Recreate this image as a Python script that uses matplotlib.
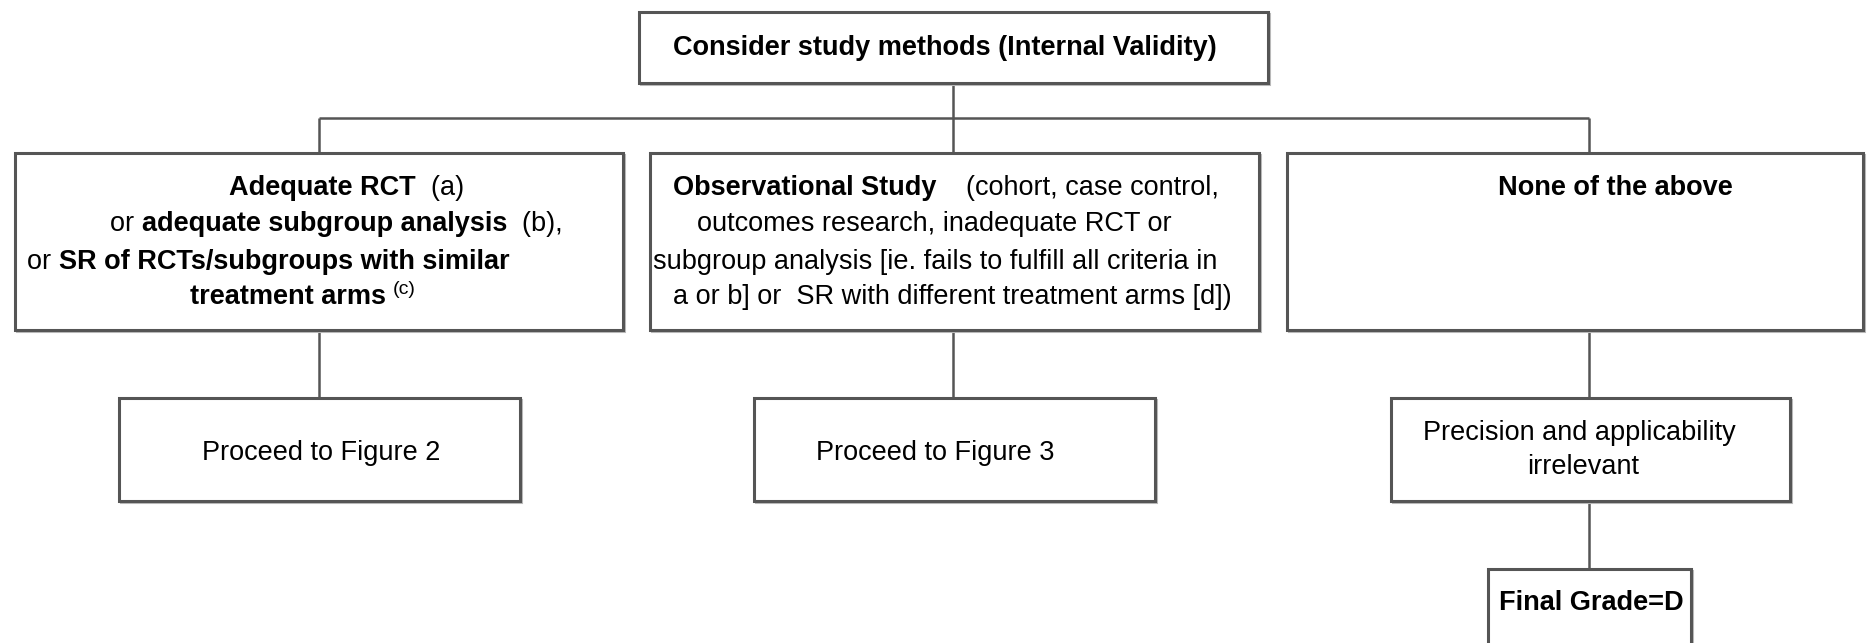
import matplotlib
matplotlib.use('Agg')
import matplotlib.pyplot as plt
from matplotlib.patches import Rectangle

# box texts: each line is a list of (text, bold) pieces
top_label = [[("Consider study methods (Internal Validity)", True)]]

rct_label = [
    [("Adequate RCT", True), ("  (a)", False)],
    [("or ", False), ("adequate subgroup analysis", True), ("  (b),", False)],
    [("or ", False), ("SR of RCTs/subgroups with similar", True)],
    [("treatment arms", True)],
]
rct_sup = "(c)"

obs_label = [
    [("Observational Study", True), ("    (cohort, case control,", False)],
    [("outcomes research, inadequate RCT or", False)],
    [("subgroup analysis [ie. fails to fulfill all criteria in", False)],
    [("a or b] or  SR with different treatment arms [d])", False)],
]

none_label = "None of the above"
fig2_label = "Proceed to Figure 2"
fig3_label = "Proceed to Figure 3"
prec_label = ["Precision and applicability", "irrelevant"]
final_label = "Final Grade=D"

# layout (pixel coords, y going down)
FS = 19.5
EDGE = '#555555'
boxes = {
    'top': (639, 12, 1268, 83),
    'rct': (15, 153, 623, 330),
    'obs': (650, 153, 1259, 330),
    'none': (1287, 153, 1863, 330),
    'fig2': (119, 398, 520, 501),
    'fig3': (754, 398, 1155, 501),
    'prec': (1391, 398, 1790, 501),
    'final': (1488, 569, 1691, 680),
}
line_y = [188, 224, 262, 297]


def draw_box(ax, key):
    x0, y0, x1, y1 = boxes[key]
    ax.add_patch(Rectangle((x0 + 2, y0 + 2), x1 - x0, y1 - y0, fill=False,
                           edgecolor='#bbbbbb', lw=1.5, zorder=1))
    ax.add_patch(Rectangle((x0, y0), x1 - x0, y1 - y0, facecolor='white',
                           edgecolor=EDGE, lw=2.2, zorder=2))


def draw_line(ax, x, y, parts, size=FS):
    prev = None
    for txt, bold in parts:
        kw = dict(fontsize=size, fontweight='bold' if bold else 'normal',
                  color='black', zorder=3)
        if prev is None:
            prev = ax.text(x, y, txt, ha='left', va='center', **kw)
        else:
            prev = ax.annotate(txt, xy=(1, 0), xycoords=prev,
                               ha='left', va='bottom', **kw)
    return prev


def connect(ax, xs, ys):
    ax.plot(xs, ys, color=EDGE, lw=1.8, zorder=1, solid_capstyle='butt')


def main():
    plt.rcParams['font.family'] = ['Liberation Sans', 'DejaVu Sans']
    fig = plt.figure(figsize=(18.7, 6.43), dpi=100)
    ax = fig.add_axes([0, 0, 1, 1])
    ax.set_xlim(0, 1870)
    ax.set_ylim(643, 0)
    ax.axis('off')

    # connectors
    connect(ax, [953, 953], [83, 153])
    connect(ax, [319, 1589], [118, 118])
    connect(ax, [319, 319], [118, 153])
    connect(ax, [1589, 1589], [118, 153])
    connect(ax, [319, 319], [330, 398])
    connect(ax, [953, 953], [330, 398])
    connect(ax, [1589, 1589], [330, 398])
    connect(ax, [1589, 1589], [501, 569])

    for key in boxes:
        draw_box(ax, key)

    draw_line(ax, 673, 48, top_label[0])

    rct_x = [229, 110, 27, 190]
    last = None
    for x, y, parts in zip(rct_x, line_y, rct_label):
        last = draw_line(ax, x, y, parts)
    ax.annotate(rct_sup, xy=(1, 1), xycoords=last, xytext=(5, 2),
                textcoords='offset points', ha='left', va='top',
                fontsize=14, zorder=3)

    obs_x = [673, 697, 653, 673]
    for x, y, parts in zip(obs_x, line_y, obs_label):
        draw_line(ax, x, y, parts)

    ax.text(1615, 188, none_label, ha='center', va='center',
            fontsize=FS, fontweight='bold')
    ax.text(321, 453, fig2_label, ha='center', va='center', fontsize=FS)
    ax.text(935, 453, fig3_label, ha='center', va='center', fontsize=FS)
    ax.text(1579, 433, prec_label[0], ha='center', va='center', fontsize=FS)
    ax.text(1583, 467, prec_label[1], ha='center', va='center', fontsize=FS)
    ax.text(1591, 603, final_label, ha='center', va='center',
            fontsize=FS, fontweight='bold')

    fig.savefig('out.png', dpi=100)


if __name__ == "__main__":
    main()
